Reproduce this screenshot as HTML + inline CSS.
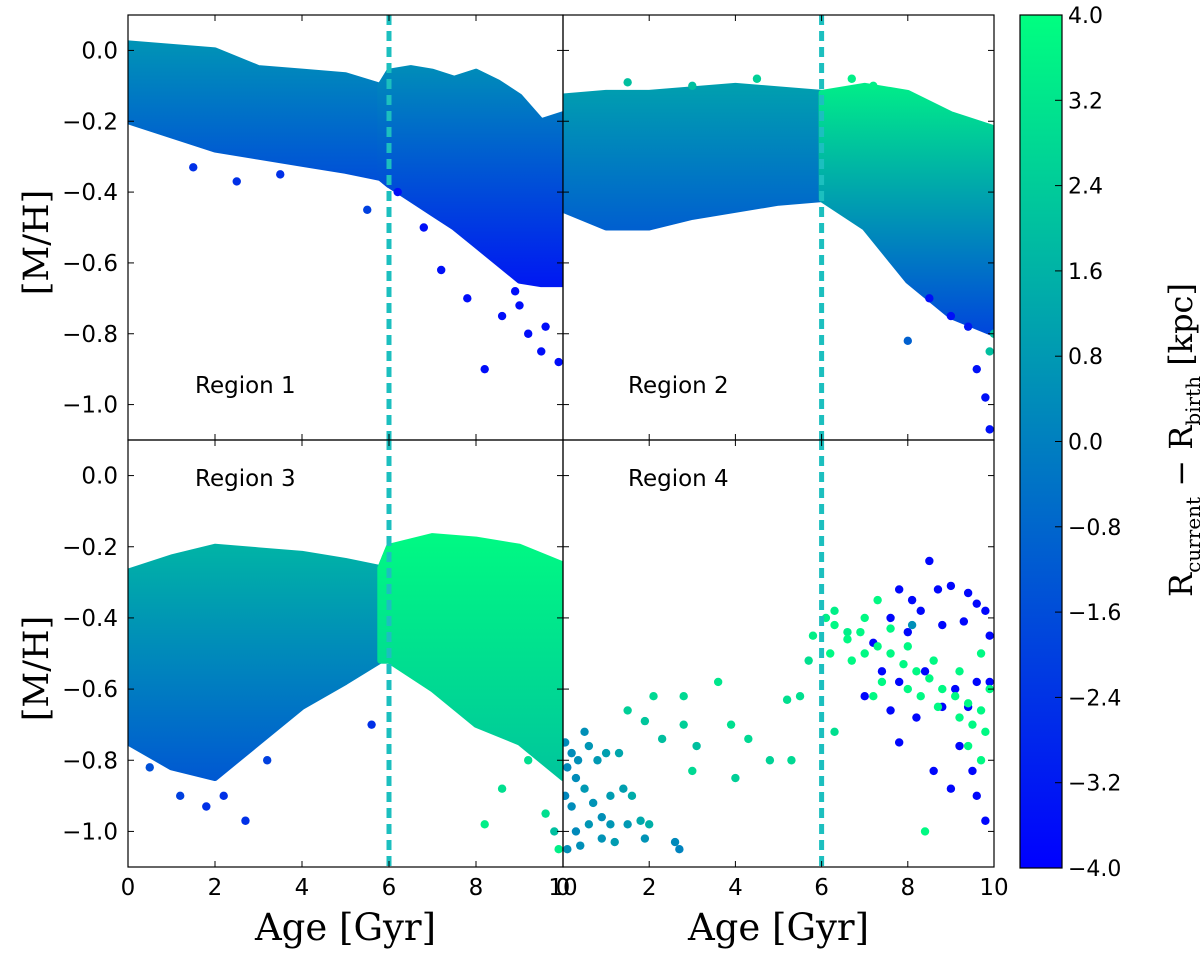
<!DOCTYPE html>
<html><head><meta charset="utf-8"><style>
body{margin:0;background:#fff}
svg text{font-family:"DejaVu Sans","Liberation Sans",sans-serif}
.serif{font-family:"DejaVu Serif","Liberation Serif",serif}
</style></head><body>
<svg id="c" width="1200" height="955" xmlns="http://www.w3.org/2000/svg">
<defs>
<linearGradient id="cb" x1="0" y1="1" x2="0" y2="0"><stop offset="0" stop-color="#0000ff"/><stop offset="1" stop-color="#00ff80"/></linearGradient>
</defs>
</svg>
<script>
// ---- data ----
const xTicks=[0,2,4,6,8,10];
const yTicks=[0.0,-0.2,-0.4,-0.6,-0.8,-1.0];
const cbTicks=[4.0,3.2,2.4,1.6,0.8,0.0,-0.8,-1.6,-2.4,-3.2,-4.0];
const splitAge=6;
const r1Ages=[0,1,2,3,4,5,5.8,6,6.5,7,7.5,8,8.5,9,9.5,10];
const r1Upper=[0.02,0.01,0.0,-0.05,-0.06,-0.07,-0.1,-0.06,-0.05,-0.06,-0.08,-0.06,-0.09,-0.13,-0.2,-0.18];
const r1Lower=[-0.2,-0.24,-0.28,-0.3,-0.32,-0.34,-0.36,-0.38,-0.42,-0.46,-0.5,-0.55,-0.6,-0.65,-0.66,-0.66];
const r1Col=[0.6,-1.6];const r1ColR=[0.4,-3.2];
const r2Ages=[0,1,2,3,4,5,6,7,8,9,10];
const r2Upper=[-0.13,-0.12,-0.12,-0.11,-0.1,-0.11,-0.12,-0.1,-0.12,-0.18,-0.22];
const r2Lower=[-0.45,-0.5,-0.5,-0.47,-0.45,-0.43,-0.42,-0.5,-0.65,-0.75,-0.8];
const r2Col=[1.0,-1.0];const r2ColR=[3.4,-1.8];
const r3Ages=[0,1,2,3,4,5,5.8,6,7,8,9,10];
const r3Upper=[-0.27,-0.23,-0.2,-0.21,-0.22,-0.24,-0.26,-0.2,-0.17,-0.18,-0.2,-0.25];
const r3Lower=[-0.75,-0.82,-0.85,-0.75,-0.65,-0.58,-0.52,-0.52,-0.6,-0.7,-0.75,-0.85];
const r3Col=[1.6,-1.2];const r3ColR=[3.8,2.2];
const r1Pts=[[1.5,-0.33,-2.5],[2.5,-0.37,-2.5],[3.5,-0.35,-2.5],[5.5,-0.45,-2],[6.2,-0.4,-3.5],[6.8,-0.5,-3.5],[7.2,-0.62,-3.5],[7.8,-0.7,-3.6],[8.2,-0.9,-3.6],[8.6,-0.75,-3.6],[9,-0.72,-3.6],[9.2,-0.8,-3.6],[9.6,-0.78,-3.6],[9.9,-0.88,-3.6],[9.5,-0.85,-3.6],[8.9,-0.68,-3.6]];
const r2Pts=[[1.5,-0.09,2],[3,-0.1,2],[4.5,-0.08,2.5],[6.7,-0.08,3.5],[7.2,-0.1,3.5],[8,-0.82,-1],[8.5,-0.7,-3.5],[9,-0.75,-3.5],[9.4,-0.78,-3.2],[9.6,-0.9,-3.5],[9.8,-0.98,-3.5],[9.9,-1.07,-3.5],[9.9,-0.85,2],[10,-0.8,2]];
const r3Pts=[[0.5,-0.82,-1.5],[1.2,-0.9,-2],[1.8,-0.93,-2.5],[2.2,-0.9,-2.5],[2.7,-0.97,-2.5],[3.2,-0.8,-2],[5.6,-0.7,-2.5],[8.2,-0.98,3.5],[8.6,-0.88,3],[9.2,-0.8,3],[9.6,-0.95,3],[9.8,-1.0,2],[9.9,-1.05,3.5]];
const r4Pts=[[0.05,-0.75,0.4],[0.2,-0.78,0.4],[0.35,-0.8,0.5],[0.1,-0.82,0.3],[0.5,-0.72,0.5],[0.6,-0.76,0.7],[0.3,-0.85,0.4],[0.05,-0.9,0.2],[0.8,-0.8,0.8],[1.0,-0.78,1],[1.3,-0.78,1.2],[0.5,-0.88,0.8],[0.7,-0.92,0.6],[1.1,-0.9,0.9],[1.4,-0.88,1],[1.6,-0.9,1.4],[0.9,-0.96,0.5],[0.2,-0.93,0.4],[0.3,-1.0,0.3],[0.4,-1.04,0.5],[0.6,-0.98,0.7],[0.9,-1.02,0.6],[1.2,-1.03,0.9],[1.5,-0.98,0.8],[1.9,-1.02,0.6],[2.0,-0.98,1.5],[2.6,-1.03,0.3],[2.7,-1.05,0.1],[1.8,-0.97,1.3],[0.1,-1.05,0.5],[1.1,-0.98,0.7],
[1.5,-0.66,2.5],[2.1,-0.62,2.8],[1.9,-0.69,2.2],[2.3,-0.74,2],[2.8,-0.62,2.8],[2.8,-0.7,2.5],[3.1,-0.76,2],[3.6,-0.58,3.2],[3.9,-0.7,3],[4.3,-0.74,2.8],[4.8,-0.8,2.6],[5.2,-0.63,3],[5.5,-0.62,3],[6.3,-0.72,3],[5.7,-0.52,3],[5.8,-0.45,3.5],[6.3,-0.38,3.5],[6.6,-0.44,3.5],[4.0,-0.85,2.5],[3.0,-0.83,2.8],[5.3,-0.8,2.8],[6.1,-0.4,3.5],
[7.3,-0.35,3.8],[7.8,-0.32,-3.8],[8.1,-0.35,-3.8],[8.5,-0.24,-3.8],[8.7,-0.32,-3.8],[9,-0.31,-3.8],[9.4,-0.33,-3.8],[9.6,-0.36,-3.8],[7.2,-0.47,-3.8],[7.6,-0.4,-3.8],[8.0,-0.44,-3.8],[8.3,-0.38,-3.8],[8.8,-0.42,-3.8],[9.3,-0.41,-3.8],[9.8,-0.38,-3.8],[9.9,-0.45,-3.8],[7.4,-0.55,-3.8],[7.8,-0.58,-3.8],[8.4,-0.55,-3.8],[9.1,-0.6,-3.8],[9.6,-0.58,-3.8],[7.0,-0.62,-3.8],[7.6,-0.66,-3.8],[8.2,-0.68,-3.8],[8.8,-0.65,-3.8],[9.4,-0.65,-3.8],[9.9,-0.58,-3.8],[7.8,-0.75,-3.8],[9.2,-0.76,-3.8],[9.0,-0.88,-3.8],[9.6,-0.9,-3.8],[9.8,-0.97,-3.8],[8.6,-0.83,-3.8],[9.5,-0.83,-3.8],
[6.3,-0.42,3.8],[6.6,-0.46,3.8],[6.9,-0.44,3.8],[7.0,-0.5,3.8],[7.3,-0.48,3.8],[7.6,-0.5,3.8],[7.9,-0.53,3.8],[8.2,-0.55,3.8],[8.5,-0.57,3.8],[8.8,-0.6,3.8],[9.1,-0.62,3.8],[9.4,-0.64,3.8],[9.7,-0.66,3.8],[9.9,-0.6,3.8],[6.2,-0.5,3.8],[6.7,-0.52,3.8],[7.4,-0.58,3.8],[8.0,-0.6,3.8],[8.3,-0.62,3.8],[8.7,-0.65,3.8],[9.2,-0.68,3.8],[9.5,-0.7,3.8],[9.8,-0.72,3.8],[8.0,-0.48,3.8],[8.6,-0.52,3.8],[9.2,-0.55,3.8],[9.7,-0.5,3.8],[7.0,-0.4,3.8],[7.6,-0.43,3.8],[8.4,-1.0,3.8],[9.4,-0.76,3.8],[9.7,-0.8,3.8],[8.1,-0.42,0.5],[7.2,-0.62,3.8]];
// ---- layout ----
const NS='http://www.w3.org/2000/svg';const svg=document.getElementById('c');
function mk(t,a,p){const e=document.createElementNS(NS,t);for(const k in a)e.setAttribute(k,a[k]);(p||svg).appendChild(e);return e;}
const panels=[{x0:128,x1:563,y0:15,y1:440,name:'region-1'},{x0:563,x1:994,y0:15,y1:440,name:'region-2'},{x0:128,x1:563,y0:440,y1:867,name:'region-3'},{x0:563,x1:994,y0:440,y1:867,name:'region-4'}];
function sx(p,a){return p.x0+(a/10)*(p.x1-p.x0);}
function sy(p,m){return p.y0+(0.1-m)/1.2*(p.y1-p.y0);}
function col(v){const t=Math.max(0,Math.min(1,(v+4)/8));return 'rgb(0,'+Math.round(255*t)+','+Math.round(255*(1-0.5*t))+')';}
let gid=0;
function band(p,ages,up,lo,cL,cR,g){
  [[a=>a<=splitAge,cL],[a=>a>=splitAge-0.2,cR]].forEach(([f,c])=>{
    const idx=ages.map((a,i)=>i).filter(i=>f(ages[i]));if(idx.length<2)return;
    const id='g'+(gid++);const lg=mk('linearGradient',{id:id,x1:0,y1:0,x2:0,y2:1},svg.querySelector('defs'));
    mk('stop',{offset:0,'stop-color':col(c[0])},lg);mk('stop',{offset:1,'stop-color':col(c[1])},lg);
    let d=idx.map((i,k)=>(k?'L':'M')+sx(p,ages[i])+','+sy(p,up[i])).join('');
    d+=idx.slice().reverse().map(i=>'L'+sx(p,ages[i])+','+sy(p,lo[i])).join('')+'Z';
    const e=mk('path',{d:d,fill:'url(#'+id+')',stroke:'url(#'+id+')','stroke-width':6,'stroke-linejoin':'round'},g);
    
    
  });
}
function pts(p,arr,g){arr.forEach(q=>{const e=mk('circle',{cx:sx(p,q[0]),cy:sy(p,q[1]),r:4.2,fill:col(q[2])},g);
  
  });}
const bands=[[r1Ages,r1Upper,r1Lower,r1Col,r1ColR,r1Pts],[r2Ages,r2Upper,r2Lower,r2Col,r2ColR,r2Pts],[r3Ages,r3Upper,r3Lower,r3Col,r3ColR,r3Pts],[null,null,null,null,null,r4Pts]];
panels.forEach((p,i)=>{
  const g=mk('g',{});
  
  
  const cp='cp'+i;const c=mk('clipPath',{id:cp},svg.querySelector('defs'));mk('rect',{x:p.x0,y:p.y0,width:p.x1-p.x0,height:p.y1-p.y0},c);
  const inner=mk('g',{'clip-path':'url(#'+cp+')'},g);
  const b=bands[i];
  if(b[0])band(p,b[0],b[1],b[2],b[3],b[4],inner);
  pts(p,b[5],inner);
  const dl=mk('line',{x1:sx(p,splitAge),x2:sx(p,splitAge),y1:p.y0,y2:p.y1,stroke:'#1cbfbf','stroke-width':5,'stroke-dasharray':'10,6'},inner);
  
  
  mk('rect',{x:p.x0,y:p.y0,width:p.x1-p.x0,height:p.y1-p.y0,fill:'none',stroke:'#000','stroke-width':1.2},g);
  xTicks.forEach(t=>{const x=sx(p,t);mk('line',{x1:x,x2:x,y1:p.y1,y2:p.y1-6,stroke:'#000'},g);mk('line',{x1:x,x2:x,y1:p.y0,y2:p.y0+6,stroke:'#000'},g);});
  yTicks.forEach(t=>{const y=sy(p,t);mk('line',{x1:p.x0,x2:p.x0+6,y1:y,y2:y,stroke:'#000'},g);mk('line',{x1:p.x1,x2:p.x1-6,y1:y,y2:y,stroke:'#000'},g);});
  const lt=mk('text',{x:i%2?628:195,y:i<2?393:486,'font-size':23},g);lt.textContent='Region '+(i+1);
  
  
  if(i%2==0){yTicks.forEach(t=>{const e=mk('text',{x:p.x0-10,y:sy(p,t)+8,'font-size':23,'text-anchor':'end'},g);e.textContent=t.toFixed(1).replace('-','\u2212');
    
    });}
  if(i>=2){xTicks.forEach(t=>{const e=mk('text',{x:sx(p,t),y:p.y1+28,'font-size':23,'text-anchor':'middle'},g);e.textContent=t;
    
    });
    const xl=mk('text',{x:(p.x0+p.x1)/2,y:940,'font-size':37,'text-anchor':'middle','class':'serif'},g);xl.textContent='Age [Gyr]';
    
    }
  if(i%2==0){const yl=mk('text',{x:0,y:0,'font-size':35,'text-anchor':'middle','class':'serif',transform:'translate(48,'+((p.y0+p.y1)/2+15)+') rotate(-90)'},g);yl.textContent='[M/H]';
    
    }
});
const cb=mk('g',{});


mk('rect',{x:1020,y:15,width:42,height:853,fill:'url(#cb)',stroke:'#000','stroke-width':1.2},cb);
cbTicks.forEach(v=>{const y=15+(4-v)/8*853;mk('line',{x1:1055,x2:1062,y1:y,y2:y,stroke:'#000'},cb);
  const e=mk('text',{x:1068,y:y+8,'font-size':22},cb);e.textContent=v.toFixed(1).replace('-','\u2212');
  
  });
const cl=mk('text',{x:0,y:0,'font-size':32,'text-anchor':'middle','class':'serif',transform:'translate(1192,440) rotate(-90)'},cb);
cl.innerHTML='R<tspan font-size="20" dy="8">current</tspan><tspan dy="-8"> \u2212 R</tspan><tspan font-size="20" dy="8">birth</tspan><tspan dy="-8"> [kpc]</tspan>';


</script>
</body></html>
